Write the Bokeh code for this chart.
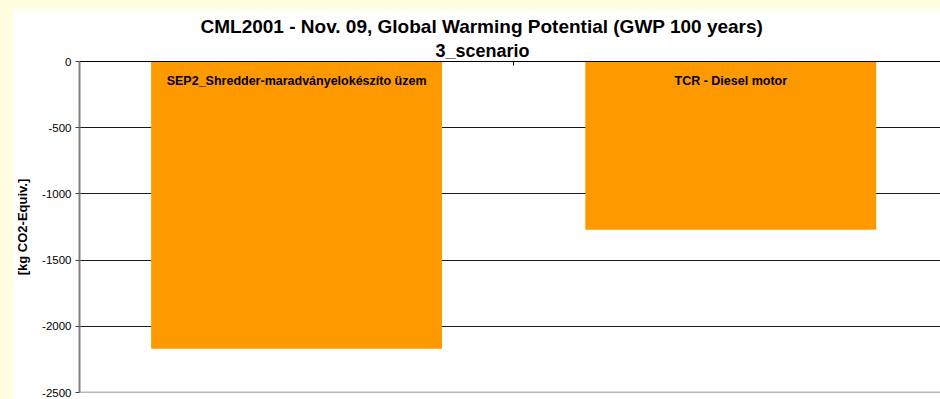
from bokeh.plotting import figure
from bokeh.models import (Range1d, LinearAxis, FixedTicker, Span, Title,
                          ColumnDataSource)
from bokeh.layouts import column
from bokeh.core.properties import value
from bokeh.embed import file_html
from bokeh.resources import INLINE

# Impact results per process (kg CO2-equivalent)
processes = ["SEP2_Shredder-maradványelokészíto üzem", "TCR - Diesel motor"]
gwp_values = [-2170, -1270]
y_ticks = [0, -500, -1000, -1500, -2000, -2500]

FONT = "Liberation Sans"
ORANGE = "#FF9900"

positions = [i + 0.5 for i in range(len(processes))]
src = ColumnDataSource(dict(x=positions, top=[0] * len(processes),
                            bottom=gwp_values, label=processes))

p = figure(width=928, height=390, output_backend="svg", toolbar_location=None,
           x_range=Range1d(0, 1.983), y_range=Range1d(-2500, 0),
           x_axis_location=None, margin=(9, 0, 0, 12),
           min_border_left=66, min_border_right=0, min_border_bottom=7,
           min_border_top=52,
           background_fill_color="white", border_fill_color="white")
p.outline_line_color = None

# bars
p.vbar(x="x", top="top", bottom="bottom", width=0.67, source=src,
       fill_color=ORANGE, line_color=None)

# process names inside the bars
p.text(x="x", y="top", text="label", source=src, text_align="center",
       text_baseline="middle", y_offset=19, text_font=value(FONT),
       text_font_style="bold", text_font_size="12.5px", text_color="black")

# horizontal grid
p.xgrid.visible = False
p.ygrid.ticker = FixedTicker(ticks=y_ticks[1:-1])
p.ygrid.grid_line_color = "#1a1a1a"
p.ygrid.grid_line_width = 1
p.add_layout(Span(location=y_ticks[-1], dimension="width",
                  line_color="#707070", line_width=1.5))

# zero line acting as category axis, with a separator tick between the bars
xa = LinearAxis(ticker=FixedTicker(ticks=[1]), axis_line_color="black",
                axis_line_width=1.2, major_tick_in=4, major_tick_out=0,
                major_tick_line_color="black", minor_tick_line_color=None,
                major_label_overrides={1: ""}, major_label_standoff=0)
p.add_layout(xa, "above")

# value axis
ya = p.yaxis[0]
ya.ticker = FixedTicker(ticks=y_ticks)
ya.major_label_overrides = {t: str(t) for t in y_ticks}
ya.axis_line_color = "#808080"
ya.axis_line_width = 2
ya.major_tick_in = 0
ya.major_tick_out = 4
ya.major_tick_line_color = "#404040"
ya.minor_tick_line_color = None
ya.major_label_standoff = 4
ya.major_label_text_font = FONT
ya.major_label_text_font_size = "11.5px"
ya.major_label_text_color = "black"
ya.axis_label = "[kg CO2-Equiv.]"
ya.axis_label_text_font = FONT
ya.axis_label_text_font_style = "bold"
ya.axis_label_text_font_size = "13px"
ya.axis_label_text_color = "black"
ya.axis_label_standoff = 9

# titles
p.add_layout(Title(text="3_scenario", align="left", offset=356,
                   text_font=FONT, text_font_style="bold",
                   text_font_size="18px", text_color="black",
                   standoff=2), "above")
p.add_layout(Title(text="CML2001 - Nov. 09, Global Warming Potential (GWP 100 years)",
                   align="left", offset=121, text_font=FONT,
                   text_font_style="bold", text_font_size="19px",
                   text_color="black", standoff=2), "above")
p.title.visible = False

page = column(p, width=940, height=399,
              styles={"background-color": "#FFFFE0"})

open("out.html", "w").write(file_html(page, INLINE))
